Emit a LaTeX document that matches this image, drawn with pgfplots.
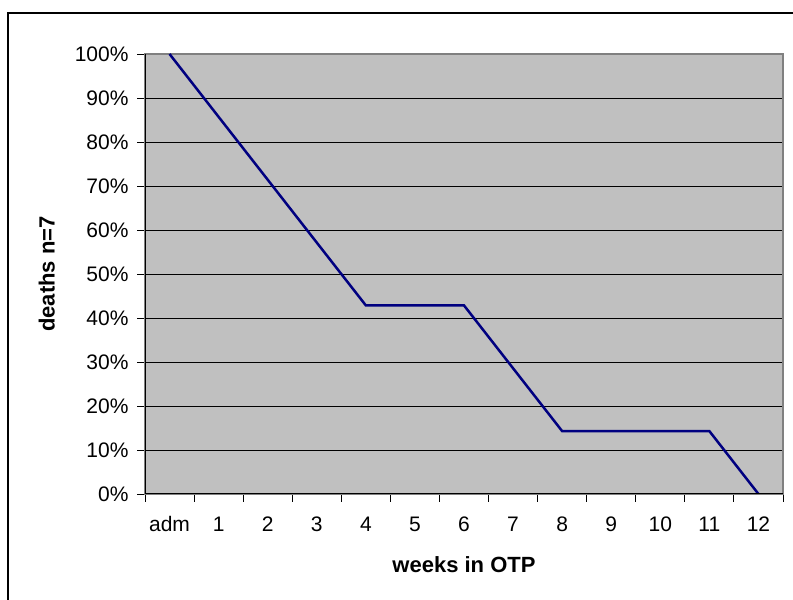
\documentclass[border=0pt]{standalone}
\usepackage{fontspec}
\setmainfont{Liberation Sans}
\usepackage{pgfplots}
\pgfplotsset{compat=1.18}

\definecolor{plotgray}{HTML}{C0C0C0}
\definecolor{framegray}{HTML}{808080}
\definecolor{navyline}{HTML}{000080}

\begin{document}
\begin{tikzpicture}
\useasboundingbox (0pt,0pt) rectangle (793pt,600pt);
% outer chart frame (runs off the right and bottom edges)
\draw[black, line width=1.5pt] (8pt,0pt) -- (8pt,587pt) -- (793pt,587pt);

\begin{axis}[
  at={(145pt,106pt)}, anchor=south west,
  scale only axis, width=638pt, height=440pt,
  xmin=-0.5, xmax=12.5, ymin=0, ymax=100,
  axis background/.style={fill=plotgray},
  axis line style={draw=framegray, line width=2pt},
  xtick={0,...,12},
  xticklabels={adm,1,2,3,4,5,6,7,8,9,10,11,12},
  major x tick style={draw=none},
  minor xtick={-0.5,0.5,...,12.5},
  minor x tick style={black, line width=0.9pt},
  minor tick length=8pt,
  ytick={0,10,...,100},
  y tick style={black, line width=0.9pt},
  major tick length=8pt,
  tick align=outside,
  xtick pos=bottom, ytick pos=left,
  ymajorgrids,
  grid style={black, line width=0.9pt},
  yticklabel={\pgfmathprintnumber{\tick}\%},
  /pgf/number format/assume math mode=true,
  tick label style={font=\fontsize{21}{24}\selectfont},
  xticklabel style={anchor=north, yshift=-11pt, text height=15pt, text depth=4pt},
  yticklabel style={xshift=-5pt},
  xlabel={weeks in OTP},
  ylabel={deaths n=7},
  label style={font=\fontsize{22}{26}\selectfont\bfseries},
  xlabel style={at={(axis description cs:0.5,-0.161)}, anchor=center},
  ylabel style={at={(axis description cs:-0.154,0.5)}, anchor=center},
]
\addplot[navyline, line width=2.5pt] coordinates {
  (0,100) (1,85.71) (2,71.43) (3,57.14) (4,42.86) (5,42.86) (6,42.86)
  (7,28.57) (8,14.29) (9,14.29) (10,14.29) (11,14.29) (12,0)
};
% axis lines on left and bottom
\draw[black, line width=1.2pt] (rel axis cs:0,1) -- (rel axis cs:0,0) -- (rel axis cs:1,0);
\end{axis}
\end{tikzpicture}
\end{document}
